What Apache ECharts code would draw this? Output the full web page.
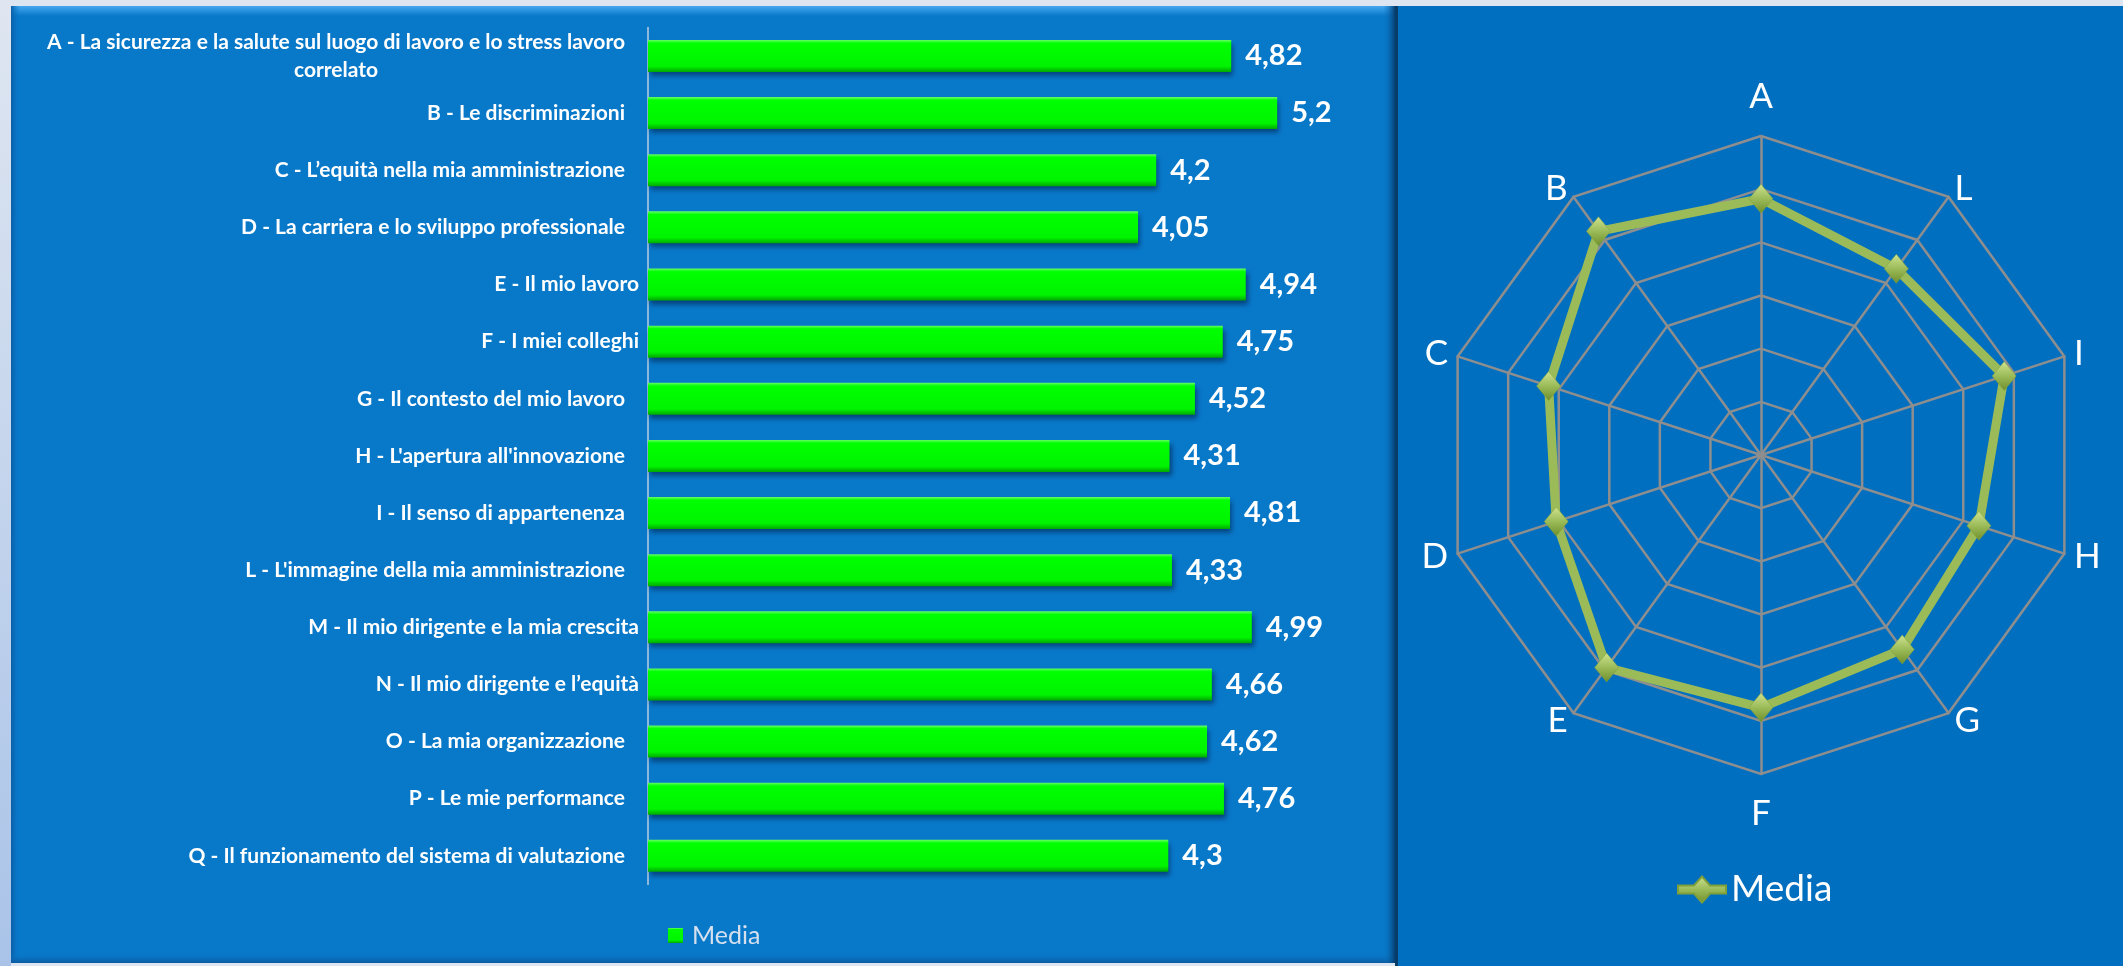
<!DOCTYPE html>
<html>
<head>
<meta charset="utf-8">
<script src="https://cdn.jsdelivr.net/npm/echarts@6/dist/echarts.min.js"></script>
<style>
  html, body { margin: 0; padding: 0; background: #dde5f1; }
  #chart { width: 2123px; height: 966px; }
</style>
</head>
<body>
<div id="chart"></div>
<script>
// ---- Data ----
const categories = [
  'A - La sicurezza e la salute sul luogo di lavoro e lo stress lavoro\ncorrelato',
  'B - Le discriminazioni',
  'C - L’equità nella mia amministrazione',
  'D - La carriera e lo sviluppo professionale',
  'E - Il mio lavoro',
  'F - I miei colleghi',
  'G - Il contesto del mio lavoro',
  "H - L'apertura all'innovazione",
  'I - Il senso di appartenenza',
  "L - L'immagine della mia amministrazione",
  'M - Il mio dirigente e la mia crescita',
  'N - Il mio dirigente e l’equità',
  'O - La mia organizzazione',
  'P - Le mie performance',
  'Q - Il funzionamento del sistema di valutazione'
];
const barValues = [4.82, 5.2, 4.2, 4.05, 4.94, 4.75, 4.52, 4.31, 4.81, 4.33, 4.99, 4.66, 4.62, 4.76, 4.3];

const radarAxes = ['A', 'B', 'C', 'D', 'E', 'F', 'G', 'H', 'I', 'L'];
const radarValues = [4.82, 5.2, 4.2, 4.05, 4.94, 4.75, 4.52, 4.31, 4.81, 4.33];
const radarMax = 6;

const seriesName = 'Media';

// labels that sit closer to the axis in the original (no trailing spaces)
const flushLabelLetters = ['E', 'F', 'M', 'N'];

// ---- Chart ----
const chart = echarts.init(document.getElementById('chart'), null, { renderer: 'canvas' });

const G = echarts.graphic;
const labelFont = { color: '#ffffff', fontFamily: 'Lato', fontWeight: 'bold', fontSize: 21, lineHeight: 28 };
const option = {
  animation: false,
  backgroundColor: '#dde5f1',
  graphic: {
    elements: [
      { type: 'rect', z: -10, shape: { x: 0, y: 0, width: 11, height: 966 },
        style: { fill: new G.LinearGradient(0, 0, 0, 1, [{ offset: 0, color: '#dfe6f1' }, { offset: 1, color: '#a9c3e8' }]) } },
      { type: 'rect', z: -10, shape: { x: 11, y: 6, width: 1384, height: 957 }, style: { fill: '#0878c9' } },
      { type: 'rect', z: -9, shape: { x: 11, y: 6, width: 1384, height: 10 },
        style: { fill: new G.LinearGradient(0, 0, 0, 1, [{ offset: 0, color: '#45a8f0' }, { offset: 1, color: '#0878c9' }]) } },
      { type: 'rect', z: -9, shape: { x: 11, y: 6, width: 9, height: 957 },
        style: { fill: new G.LinearGradient(0, 0, 1, 0, [{ offset: 0, color: '#0a5ea6' }, { offset: 1, color: 'rgba(8,120,201,0)' }]) } },
      { type: 'rect', z: -9, shape: { x: 11, y: 953, width: 1384, height: 10 },
        style: { fill: new G.LinearGradient(0, 0, 0, 1, [{ offset: 0, color: 'rgba(8,120,201,0)' }, { offset: 1, color: '#0a5a9e' }]) } },
      { type: 'rect', z: -9, shape: { x: 1383, y: 6, width: 12, height: 957 },
        style: { fill: new G.LinearGradient(0, 0, 1, 0, [{ offset: 0, color: 'rgba(8,120,201,0)' }, { offset: 1, color: '#063f72' }]) } },
      { type: 'rect', z: -10, shape: { x: 1395, y: 6, width: 728, height: 960 }, style: { fill: '#006fc0' } },
      { type: 'rect', z: -9, shape: { x: 1395, y: 6, width: 3, height: 960 }, style: { fill: '#073b68' } }
    ]
  },
  legend: [
    {
      data: [{ name: seriesName + ' ', icon: 'rect' }],
      formatter: () => seriesName,
      left: 663, top: 918,
      itemWidth: 15, itemHeight: 15,
      itemGap: 8,
      selectedMode: false,
      textStyle: { color: '#d5e0ee', fontFamily: 'Lato', fontSize: 25, padding: [0, 0, 0, 4] }
    },
    {
      data: [{ name: seriesName, icon: 'path://M0,9 L16,9 L24,0 L32,9 L48,9 L48,17 L32,17 L24,26 L16,17 L0,17 Z' }],
      left: 1672, top: 866,
      itemWidth: 48, itemHeight: 26,
      selectedMode: false,
      textStyle: { color: '#ffffff', fontFamily: 'Lato', fontSize: 37 }
    }
  ],
  grid: { left: 648, top: 27.4, width: 726, height: 857, containLabel: false },
  xAxis: { type: 'value', min: 0, max: 6, show: false },
  yAxis: {
    type: 'category',
    data: categories,
    inverse: true,
    axisTick: { show: false },
    axisLine: { show: true, lineStyle: { color: '#b8cce4', width: 1.5 } },
    axisLabel: Object.assign({
      margin: 9,
      formatter: (v) => {
        const tag = flushLabelLetters.indexOf(v.charAt(0)) >= 0 ? 'f' : 'p';
        return v.split('\n').map(s => '{' + tag + '|' + s + '}').join('\n');
      },
      rich: {
        f: Object.assign({ align: 'center' }, labelFont),
        p: Object.assign({ align: 'center', padding: [0, 14, 0, 0] }, labelFont)
      }
    }, labelFont),
    splitLine: { show: false }
  },
  radar: {
    center: [1761, 455],
    radius: 319,
    startAngle: 90,
    splitNumber: 6,
    shape: 'polygon',
    indicator: radarAxes.map(n => ({ name: n, min: 0, max: radarMax })),
    axisName: {
      color: '#ffffff', fontFamily: 'Lato', fontSize: 35,
      formatter: (n) => n === 'A' ? '{t|A}' : (n === 'F' ? '{b|F}' : n),
      rich: {
        t: { color: '#ffffff', fontFamily: 'Lato', fontSize: 35, padding: [0, 0, 12, 0] },
        b: { color: '#ffffff', fontFamily: 'Lato', fontSize: 35, padding: [12, 0, 0, 0] }
      }
    },
    nameGap: 10,
    axisLine: { lineStyle: { color: '#8e8e8e', width: 2.5 } },
    splitLine: { lineStyle: { color: '#8e8e8e', width: 2.5 } },
    splitArea: { show: false },
    axisTick: { show: false },
    axisLabel: { show: false }
  },
  series: [
    {
      name: seriesName + ' ',
      type: 'bar',
      data: barValues,
      barWidth: 32,
      itemStyle: {
        color: new G.LinearGradient(0, 0, 0, 1, [
          { offset: 0, color: '#66ff66' },
          { offset: 0.1, color: '#00ff00' },
          { offset: 0.82, color: '#00f400' },
          { offset: 1, color: '#00a800' }
        ]),
        shadowColor: 'rgba(0,20,60,0.55)',
        shadowBlur: 5,
        shadowOffsetX: 2,
        shadowOffsetY: 4
      },
      label: {
        show: true,
        position: 'right',
        distance: 14,
        color: '#ffffff',
        fontFamily: 'Lato',
        fontWeight: 'bold',
        fontSize: 29,
        formatter: (p) => String(p.value).replace('.', ',')
      }
    },
    {
      name: seriesName,
      type: 'radar',
      symbol: 'diamond',
      symbolSize: [24, 29],
      data: [{ value: radarValues, name: seriesName }],
      lineStyle: { color: '#9bbb59', width: 9 },
      itemStyle: {
        color: new G.LinearGradient(0, 0, 0, 1, [
          { offset: 0, color: '#cfe38f' },
          { offset: 0.5, color: '#9bbb59' },
          { offset: 1, color: '#6f8f2c' }
        ]),
        borderColor: '#7f9f3a',
        borderWidth: 0.5
      }
    }
  ]
};
chart.setOption(option);
</script>
</body>
</html>
